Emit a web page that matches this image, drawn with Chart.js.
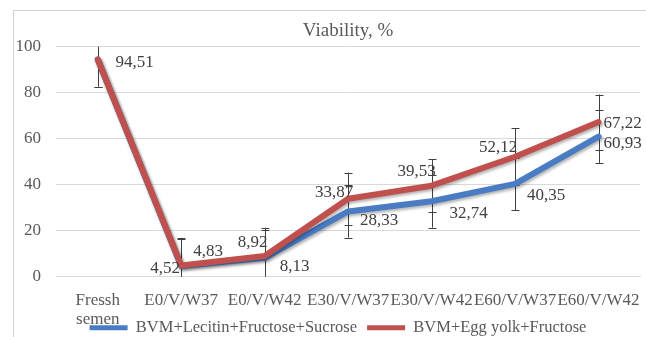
<!DOCTYPE html>
<html>
<head>
<meta charset="utf-8">
<script src="https://cdn.jsdelivr.net/npm/chart.js@4.4.1/dist/chart.umd.min.js"></script>
<style>
  html, body { margin: 0; padding: 0; background: #fff; overflow: hidden; }
  #frame { position: absolute; left: 13px; top: 10px; width: 700px; height: 400px;
           border-left: 1px solid #d4d4d4; border-top: 1px solid #d4d4d4; }
  #wrap { position: relative; width: 646px; height: 346px; }
</style>
</head>
<body>
<div id="frame"></div>
<div id="wrap"><canvas id="viabGraf" width="646" height="346"></canvas></div>
<script>
// data lest av bildet
const categories = [['Fressh', 'semen'], 'E0/V/W37', 'E0/V/W42', 'E30/V/W37', 'E30/V/W42', 'E60/V/W37', 'E60/V/W42'];
const lecitinValues = [94.51, 4.52, 8.13, 28.33, 32.74, 40.35, 60.93];
const eggYolkValues = [94.51, 4.83, 8.92, 33.87, 39.53, 52.12, 67.22];
const lecitinErrors = [11.8, 12, 12, 11.4, 11.5, 11.4, 11.7];
const eggYolkErrors = [11.8, 12, 12.3, 11.4, 11.5, 12.4, 12];
const yTicks = [0, 20, 40, 60, 80, 100];

// hvor etikettene står i forhold til punktet (px)
const lecitinLabelOffsets = [null, [-16, 2], [30, 9], [31, 9], [37, 12], [31, 12], [24, 7]];
const eggYolkLabelOffsets = [[37, 3], [27, -14], [-12, -13], [-14, -6], [-15, -14], [-17, -9], [24, 1]];

const FONT = 'Liberation Serif, Times New Roman, serif';

const errorBars = {
    id: 'errorBars',
    beforeDatasetsDraw(chart) {
        const ctx = chart.ctx;
        const area = chart.chartArea;
        const y = chart.scales.y;
        ctx.save();
        ctx.beginPath();
        ctx.rect(area.left, area.top, area.right - area.left, area.bottom - area.top);
        ctx.clip();
        ctx.strokeStyle = '#404040';
        ctx.lineWidth = 1;
        chart.data.datasets.forEach((ds, di) => {
            const meta = chart.getDatasetMeta(di);
            ds.errors.forEach((e, i) => {
                const x = Math.round(meta.data[i].x) + 0.5;
                const hi = y.getPixelForValue(ds.data[i] + e);
                const lo = y.getPixelForValue(ds.data[i] - e);
                ctx.beginPath();
                ctx.moveTo(x, hi); ctx.lineTo(x, lo);
                ctx.moveTo(x - 4, Math.round(hi) + 0.5); ctx.lineTo(x + 4, Math.round(hi) + 0.5);
                ctx.moveTo(x - 4, Math.round(lo) + 0.5); ctx.lineTo(x + 4, Math.round(lo) + 0.5);
                ctx.stroke();
            });
        });
        ctx.restore();
    }
};

const lineShadow = {
    id: 'lineShadow',
    beforeDatasetDraw(chart) {
        const ctx = chart.ctx;
        ctx.save();
        ctx.shadowColor = 'rgba(0,0,0,0.3)';
        ctx.shadowBlur = 3;
        ctx.shadowOffsetX = 1.5;
        ctx.shadowOffsetY = 2;
    },
    afterDatasetDraw(chart) {
        chart.ctx.restore();
    }
};

const valueLabels = {
    id: 'valueLabels',
    afterDatasetsDraw(chart) {
        const ctx = chart.ctx;
        ctx.save();
        ctx.font = '17px ' + FONT;
        ctx.fillStyle = '#404040';
        ctx.textAlign = 'center';
        ctx.textBaseline = 'middle';
        chart.data.datasets.forEach((ds, di) => {
            const meta = chart.getDatasetMeta(di);
            ds.data.forEach((v, i) => {
                const off = ds.labelOffsets[i];
                if (!off) return;
                const p = meta.data[i];
                ctx.fillText(v.toFixed(2).replace('.', ','), p.x + off[0], p.y + off[1]);
            });
        });
        ctx.restore();
    }
};

// x-aksen får plass til "semen", og legenden flyttes litt mot høyre
const layoutTweaks = {
    id: 'layoutTweaks',
    afterLayout(chart) {
        const x = chart.scales.x;
        x.bottom = x.top + 60;
        chart.legend.left += 30;
    }
};

new Chart(document.getElementById('viabGraf'), {
    type: 'line',
    data: {
        labels: categories,
        datasets: [
            {
                label: 'BVM+Lecitin+Fructose+Sucrose',
                data: lecitinValues,
                errors: lecitinErrors,
                labelOffsets: lecitinLabelOffsets,
                borderColor: '#4a7cc4',
                backgroundColor: '#4a7cc4',
                borderWidth: 6,
                pointRadius: 0,
                tension: 0,
                borderJoinStyle: 'round',
                borderCapStyle: 'round',
                order: 1
            },
            {
                label: 'BVM+Egg yolk+Fructose',
                data: eggYolkValues,
                errors: eggYolkErrors,
                labelOffsets: eggYolkLabelOffsets,
                borderColor: '#c0504d',
                backgroundColor: '#c0504d',
                borderWidth: 6,
                pointRadius: 0,
                tension: 0,
                borderJoinStyle: 'round',
                borderCapStyle: 'round',
                order: 0
            }
        ]
    },
    options: {
        responsive: false,
        animation: false,
        layout: { padding: 0 },
        plugins: {
            tooltip: { enabled: false },
            title: {
                display: true,
                text: 'Viability, %',
                fullSize: false,
                color: '#595959',
                font: { family: FONT, size: 19, weight: 'normal' },
                padding: { top: 20, bottom: 4 }
            },
            legend: {
                position: 'bottom',
                labels: {
                    boxWidth: 38,
                    boxHeight: 5,
                    padding: 10,
                    color: '#595959',
                    font: { family: FONT, size: 16.5 },
                    sort: (a, b) => a.datasetIndex - b.datasetIndex,
                    generateLabels(chart) {
                        return Chart.defaults.plugins.legend.labels.generateLabels(chart)
                            .map(it => Object.assign(it, { lineWidth: 0 }));
                    }
                }
            }
        },
        scales: {
            x: {
                offset: true,
                grid: { display: false },
                border: { color: '#d9d9d9' },
                ticks: {
                    color: '#595959',
                    font: { family: FONT, size: 17, lineHeight: 1.15 },
                    maxRotation: 0,
                    minRotation: 0,
                    autoSkip: false,
                    padding: 6
                },
                afterFit(scale) { scale.height = 33; }
            },
            y: {
                min: 0,
                max: 100,
                border: { display: false },
                grid: { color: '#d9d9d9', drawTicks: false },
                ticks: {
                    color: '#595959',
                    font: { family: FONT, size: 17 },
                    padding: 15
                },
                afterBuildTicks(scale) { scale.ticks = yTicks.map(v => ({ value: v })); },
                afterFit(scale) { scale.width = 56; }
            }
        }
    },
    plugins: [errorBars, lineShadow, valueLabels, layoutTweaks]
});
</script>
</body>
</html>
